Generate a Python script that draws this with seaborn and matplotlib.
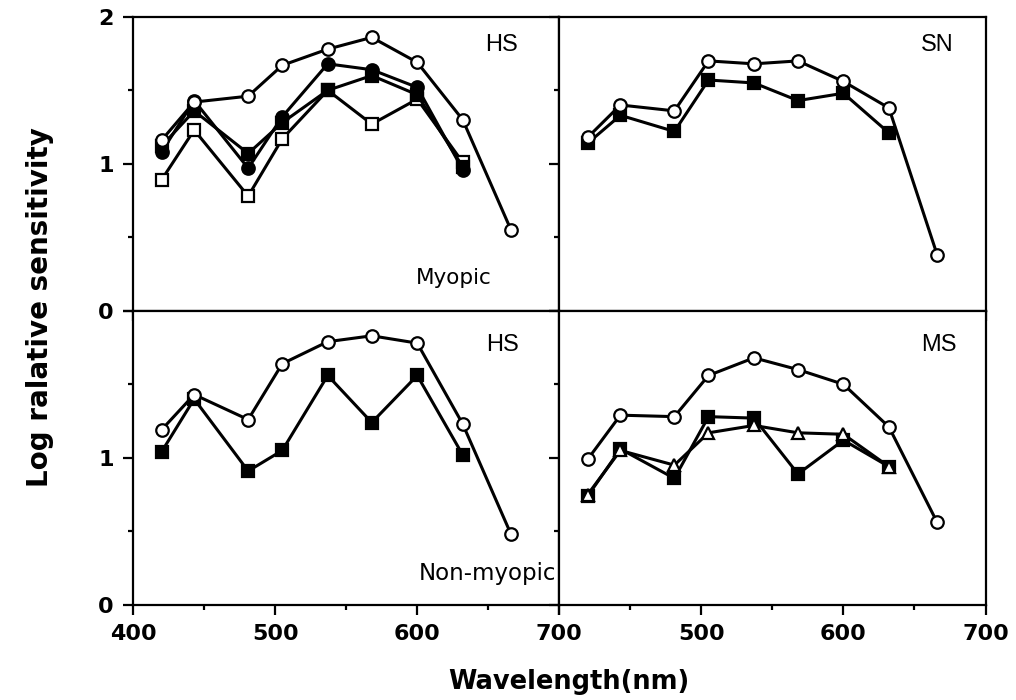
import matplotlib
matplotlib.use("Agg")
import matplotlib.pyplot as plt
import seaborn as sns
from matplotlib.ticker import MultipleLocator

sns.set_theme(style="ticks")
plt.rcParams['font.family'] = ['DejaVu Sans']
plt.rcParams['text.color'] = 'black'
plt.rcParams['xtick.color'] = 'black'
plt.rcParams['ytick.color'] = 'black'
plt.rcParams['xtick.labelcolor'] = 'black'
plt.rcParams['ytick.labelcolor'] = 'black'

# wavelengths (nm) of the test lights
wavelength = [420, 443, 481, 505, 537, 568, 600, 632, 666]
wl8 = wavelength[:8]

# HS, myopic (top left)
hs_my_open_circle = [1.16, 1.42, 1.46, 1.67, 1.78, 1.86, 1.69, 1.30, 0.55]
hs_my_filled_circle = [1.08, 1.43, 0.97, 1.32, 1.68, 1.64, 1.52, 0.96]
hs_my_filled_square = [1.12, 1.36, 1.07, 1.28, 1.50, 1.60, 1.47, 0.98]
hs_my_open_square = [0.89, 1.23, 0.78, 1.17, 1.50, 1.27, 1.44, 1.01]

# SN (top right)
sn_open_circle = [1.18, 1.40, 1.36, 1.70, 1.68, 1.70, 1.56, 1.38, 0.38]
sn_filled_square = [1.14, 1.33, 1.22, 1.57, 1.55, 1.43, 1.48, 1.21]

# HS, non-myopic (bottom left)
hs_nm_open_circle = [1.19, 1.43, 1.26, 1.64, 1.79, 1.83, 1.78, 1.23, 0.48]
hs_nm_filled_square = [1.04, 1.40, 0.91, 1.05, 1.56, 1.24, 1.56, 1.02]

# MS (bottom right)
ms_open_circle = [0.99, 1.29, 1.28, 1.56, 1.68, 1.60, 1.50, 1.21, 0.56]
ms_filled_square = [0.74, 1.06, 0.86, 1.28, 1.27, 0.89, 1.12, 0.94]
ms_open_triangle = [0.75, 1.05, 0.95, 1.17, 1.22, 1.17, 1.16, 0.94]

xticks = [400, 500, 600, 700]
yticks = [0, 1, 2]


def draw(ax, x, y, marker, filled, z):
    face = 'black' if filled else 'white'
    sns.lineplot(x=x, y=y, ax=ax, sort=False, color='black', linewidth=2.2,
                 marker=marker, markersize=9 if marker != '^' else 8,
                 markerfacecolor=face, markeredgecolor='black',
                 markeredgewidth=1.6, zorder=z)


fig, axes = plt.subplots(2, 2, figsize=(10.16, 7.0))
fig.subplots_adjust(left=0.131, right=0.970, top=0.976, bottom=0.136,
                    wspace=0, hspace=0)

label_font = dict(fontsize=17, family='Liberation Sans')

ax = axes[0, 0]
draw(ax, wl8, hs_my_open_square, 's', False, 3)
draw(ax, wl8, hs_my_filled_square, 's', True, 4)
draw(ax, wl8, hs_my_filled_circle, 'o', True, 5)
draw(ax, wavelength, hs_my_open_circle, 'o', False, 6)
ax.text(0.864, 0.905, 'HS', transform=ax.transAxes, ha='center', va='center',
        **label_font)
ax.text(0.753, 0.113, 'Myopic', transform=ax.transAxes, ha='center',
        va='center', fontsize=15.5)

ax = axes[0, 1]
draw(ax, wl8, sn_filled_square, 's', True, 4)
draw(ax, wavelength, sn_open_circle, 'o', False, 6)
ax.text(0.887, 0.905, 'SN', transform=ax.transAxes, ha='center', va='center',
        **label_font)

ax = axes[1, 0]
draw(ax, wl8, hs_nm_filled_square, 's', True, 4)
draw(ax, wavelength, hs_nm_open_circle, 'o', False, 6)
ax.text(0.866, 0.885, 'HS', transform=ax.transAxes, ha='center', va='center',
        **label_font)
ax.text(0.993, 0.105, 'Non-myopic', transform=ax.transAxes, ha='right',
        va='center', fontsize=16.5)

ax = axes[1, 1]
draw(ax, wl8, ms_filled_square, 's', True, 4)
draw(ax, wl8, ms_open_triangle, '^', False, 5)
draw(ax, wavelength, ms_open_circle, 'o', False, 6)
ax.text(0.891, 0.885, 'MS', transform=ax.transAxes, ha='center', va='center',
        **label_font)

for i in range(2):
    for j in range(2):
        ax = axes[i, j]
        ax.set_xlim(400, 700)
        ax.set_ylim(0, 2)
        ax.set_xticks(xticks)
        ax.set_yticks(yticks)
        ax.xaxis.set_minor_locator(MultipleLocator(50))
        ax.yaxis.set_minor_locator(MultipleLocator(0.5))
        ax.tick_params(which='major', direction='out', length=7, width=1.6,
                       color='black', labelsize=16, pad=7)
        ax.tick_params(which='minor', direction='out', length=3.5, width=1.6,
                       color='black')
        for s in ax.spines.values():
            s.set_visible(True)
            s.set_linewidth(1.6)
            s.set_color('black')
        ax.set_xlabel('')
        ax.set_ylabel('')
        ax.grid(False)
        ax.set_facecolor('white')

axes[0, 0].set_yticklabels(['0', '1', '2'], fontweight='bold')
axes[1, 0].set_yticklabels(['0', '1', ''], fontweight='bold')
axes[1, 0].set_xticklabels(['400', '500', '600', '700'], fontweight='bold')
axes[1, 1].set_xticklabels(['', '500', '600', '700'], fontweight='bold')
for ax in [axes[0, 1], axes[1, 1]]:
    ax.tick_params(axis='y', labelleft=False)
for ax in [axes[0, 0], axes[0, 1]]:
    ax.tick_params(axis='x', labelbottom=False)

fig.text(0.039, 0.561, 'Log ralative sensitivity', rotation=90, ha='center',
         va='center', fontsize=20, fontweight='bold')
fig.text(0.56, 0.026, 'Wavelength(nm)', ha='center', va='center',
         fontsize=18.5, fontweight='bold')

plt.savefig('out.png', dpi=100, facecolor='white')
